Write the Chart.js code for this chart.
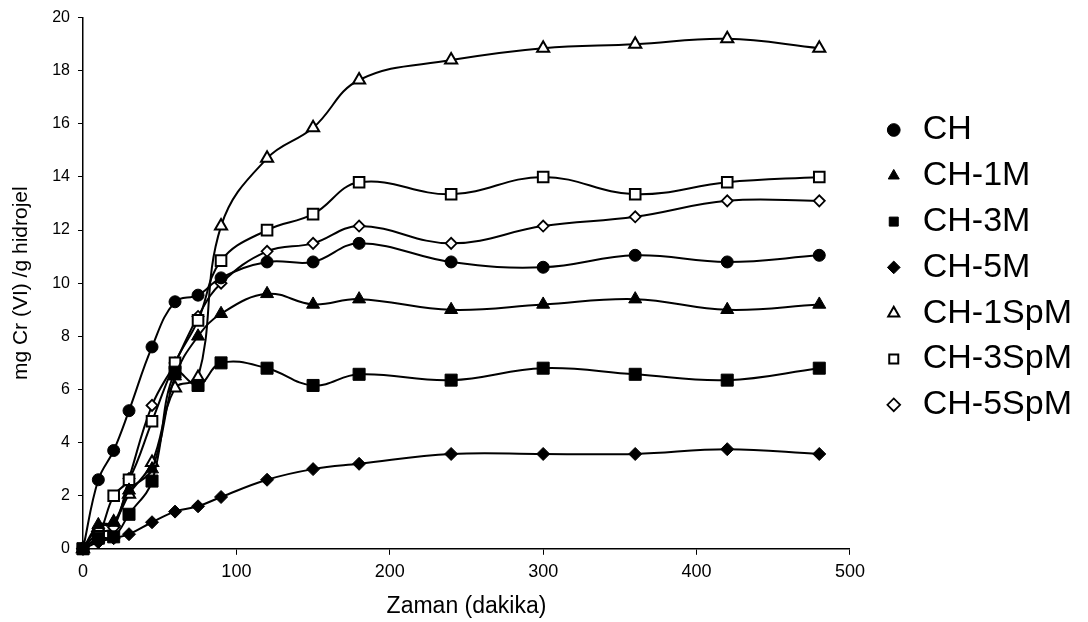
<!DOCTYPE html>
<html>
<head>
<meta charset="utf-8">
<script src="https://cdn.jsdelivr.net/npm/chart.js@4/dist/chart.umd.min.js"></script>
<style>
html,body{margin:0;padding:0;background:#fff;}
#wrap{width:1088px;height:622px;position:relative;}
</style>
</head>
<body>
<div id="wrap"><canvas id="c" width="1088" height="622"></canvas></div>
<script>
const times = [0,10,20,30,45,60,75,90,120,150,180,240,300,360,420,480];
const seriesNames = ["CH","CH-1M","CH-3M","CH-5M","CH-1SpM","CH-3SpM","CH-5SpM"];
const valCH     = [0,2.6,3.7,5.2,7.6,9.3,9.55,10.2,10.8,10.8,11.5,10.8,10.6,11.05,10.8,11.05];
const valCH1M   = [0,0.9,1.0,2.2,3.0,6.5,8.0,8.85,9.6,9.2,9.4,9.0,9.2,9.4,9.0,9.2];
const valCH3M   = [0,0.4,0.45,1.3,2.55,6.65,6.15,7.0,6.8,6.15,6.57,6.35,6.8,6.57,6.35,6.8];
const valCH5M   = [0,0.25,0.4,0.55,1.0,1.4,1.6,1.95,2.6,3.0,3.2,3.57,3.57,3.57,3.75,3.57];
const valCH1SpM = [0,0.8,1.0,2.05,3.25,6.05,6.45,12.15,14.7,15.85,17.65,18.4,18.85,19.0,19.2,18.85];
const valCH3SpM = [0,0.5,2.0,2.6,4.8,7.0,8.6,10.85,12.0,12.6,13.8,13.35,14.0,13.35,13.8,14.0];
const valCH5SpM = [0,0.6,0.8,2.65,5.4,7.0,8.75,10.0,11.2,11.5,12.15,11.5,12.15,12.5,13.1,13.1];
const xTicks = [0,100,200,300,400,500];
const yTicks = [0,2,4,6,8,10,12,14,16,18,20];

const allValues = [valCH,valCH1M,valCH3M,valCH5M,valCH1SpM,valCH3SpM,valCH5SpM];
const styles = [
  {ps:'circle',   r:6,   fill:'#000', bw:1},
  {ps:'triangle', r:7.5, fill:'#000', bw:1},
  {ps:'rect',     r:8.5, fill:'#000', bw:1},
  {ps:'rectRot',  r:6.5, fill:'#000', bw:1},
  {ps:'triangle', r:7,   fill:'#fff', bw:2},
  {ps:'rect',     r:7.5, fill:'#fff', bw:2},
  {ps:'rectRot',  r:5.5, fill:'#fff', bw:1.8}
];

const datasets = seriesNames.map((name,i)=>({
  label: name,
  data: times.map((t,j)=>({x:t, y:allValues[i][j]})),
  borderColor:'#000',
  borderWidth:2,
  backgroundColor: styles[i].fill,
  pointStyle: styles[i].ps,
  pointRadius: styles[i].r,
  pointBackgroundColor: styles[i].fill,
  pointBorderColor:'#000',
  pointBorderWidth: styles[i].bw,
  tension:0.4,
  fill:false,
  clip:false
}));

const whiteBg = {
  id:'whiteBg',
  beforeDraw(chart){
    const ctx=chart.ctx; ctx.save(); ctx.fillStyle='#fff';
    ctx.fillRect(0,0,chart.width,chart.height); ctx.restore();
  }
};
const LEGEND_SHIFT = 20;
const legendShift = {
  id:'legendShift',
  afterLayout(chart){
    const L = chart.legend;
    if (L) { L.left += LEGEND_SHIFT; L.right += LEGEND_SHIFT; }
  }
};

Chart.defaults.font.family = "'Liberation Sans', Arial, sans-serif";
Chart.defaults.color = '#000';

new Chart(document.getElementById('c'), {
  type:'line',
  data:{datasets},
  options:{
    responsive:false,
    animation:false,
    layout:{padding:{left:9,top:7,right:6 + LEGEND_SHIFT,bottom:2}},
    plugins:{
      legend:{
        position:'right',
        align:'start',
        title:{display:true,text:'',font:{size:1},padding:{top:93,bottom:0}},
        labels:{
          usePointStyle:true,
          boxWidth:24,
          boxHeight:9,
          padding:11.8,
          color:'#000',
          font:{size:34}
        }
      },
      tooltip:{enabled:false}
    },
    scales:{
      x:{
        type:'linear',
        min:0,max:500,
        afterBuildTicks(axis){ axis.ticks = xTicks.map(v=>({value:v})); },
        grid:{display:true,drawOnChartArea:false,drawTicks:true,tickLength:6,color:'#000'},
        border:{display:true,color:'#000',width:1.5},
        ticks:{padding:6,color:'#000',font:{size:18},maxRotation:0},
        title:{display:true,text:'Zaman (dakika)',color:'#000',padding:{top:4,bottom:0},font:{size:23}}
      },
      y:{
        type:'linear',
        min:0,max:20,
        afterBuildTicks(axis){ axis.ticks = yTicks.map(v=>({value:v})); },
        grid:{display:true,drawOnChartArea:false,drawTicks:true,tickLength:5,color:'#000'},
        border:{display:true,color:'#000',width:1.5},
        ticks:{padding:8,color:'#000',font:{size:16}},
        title:{display:true,text:'mg Cr (VI) /g hidrojel',color:'#000',padding:{top:0,bottom:10},font:{size:21}}
      }
    }
  },
  plugins:[whiteBg, legendShift]
});
</script>
</body>
</html>
